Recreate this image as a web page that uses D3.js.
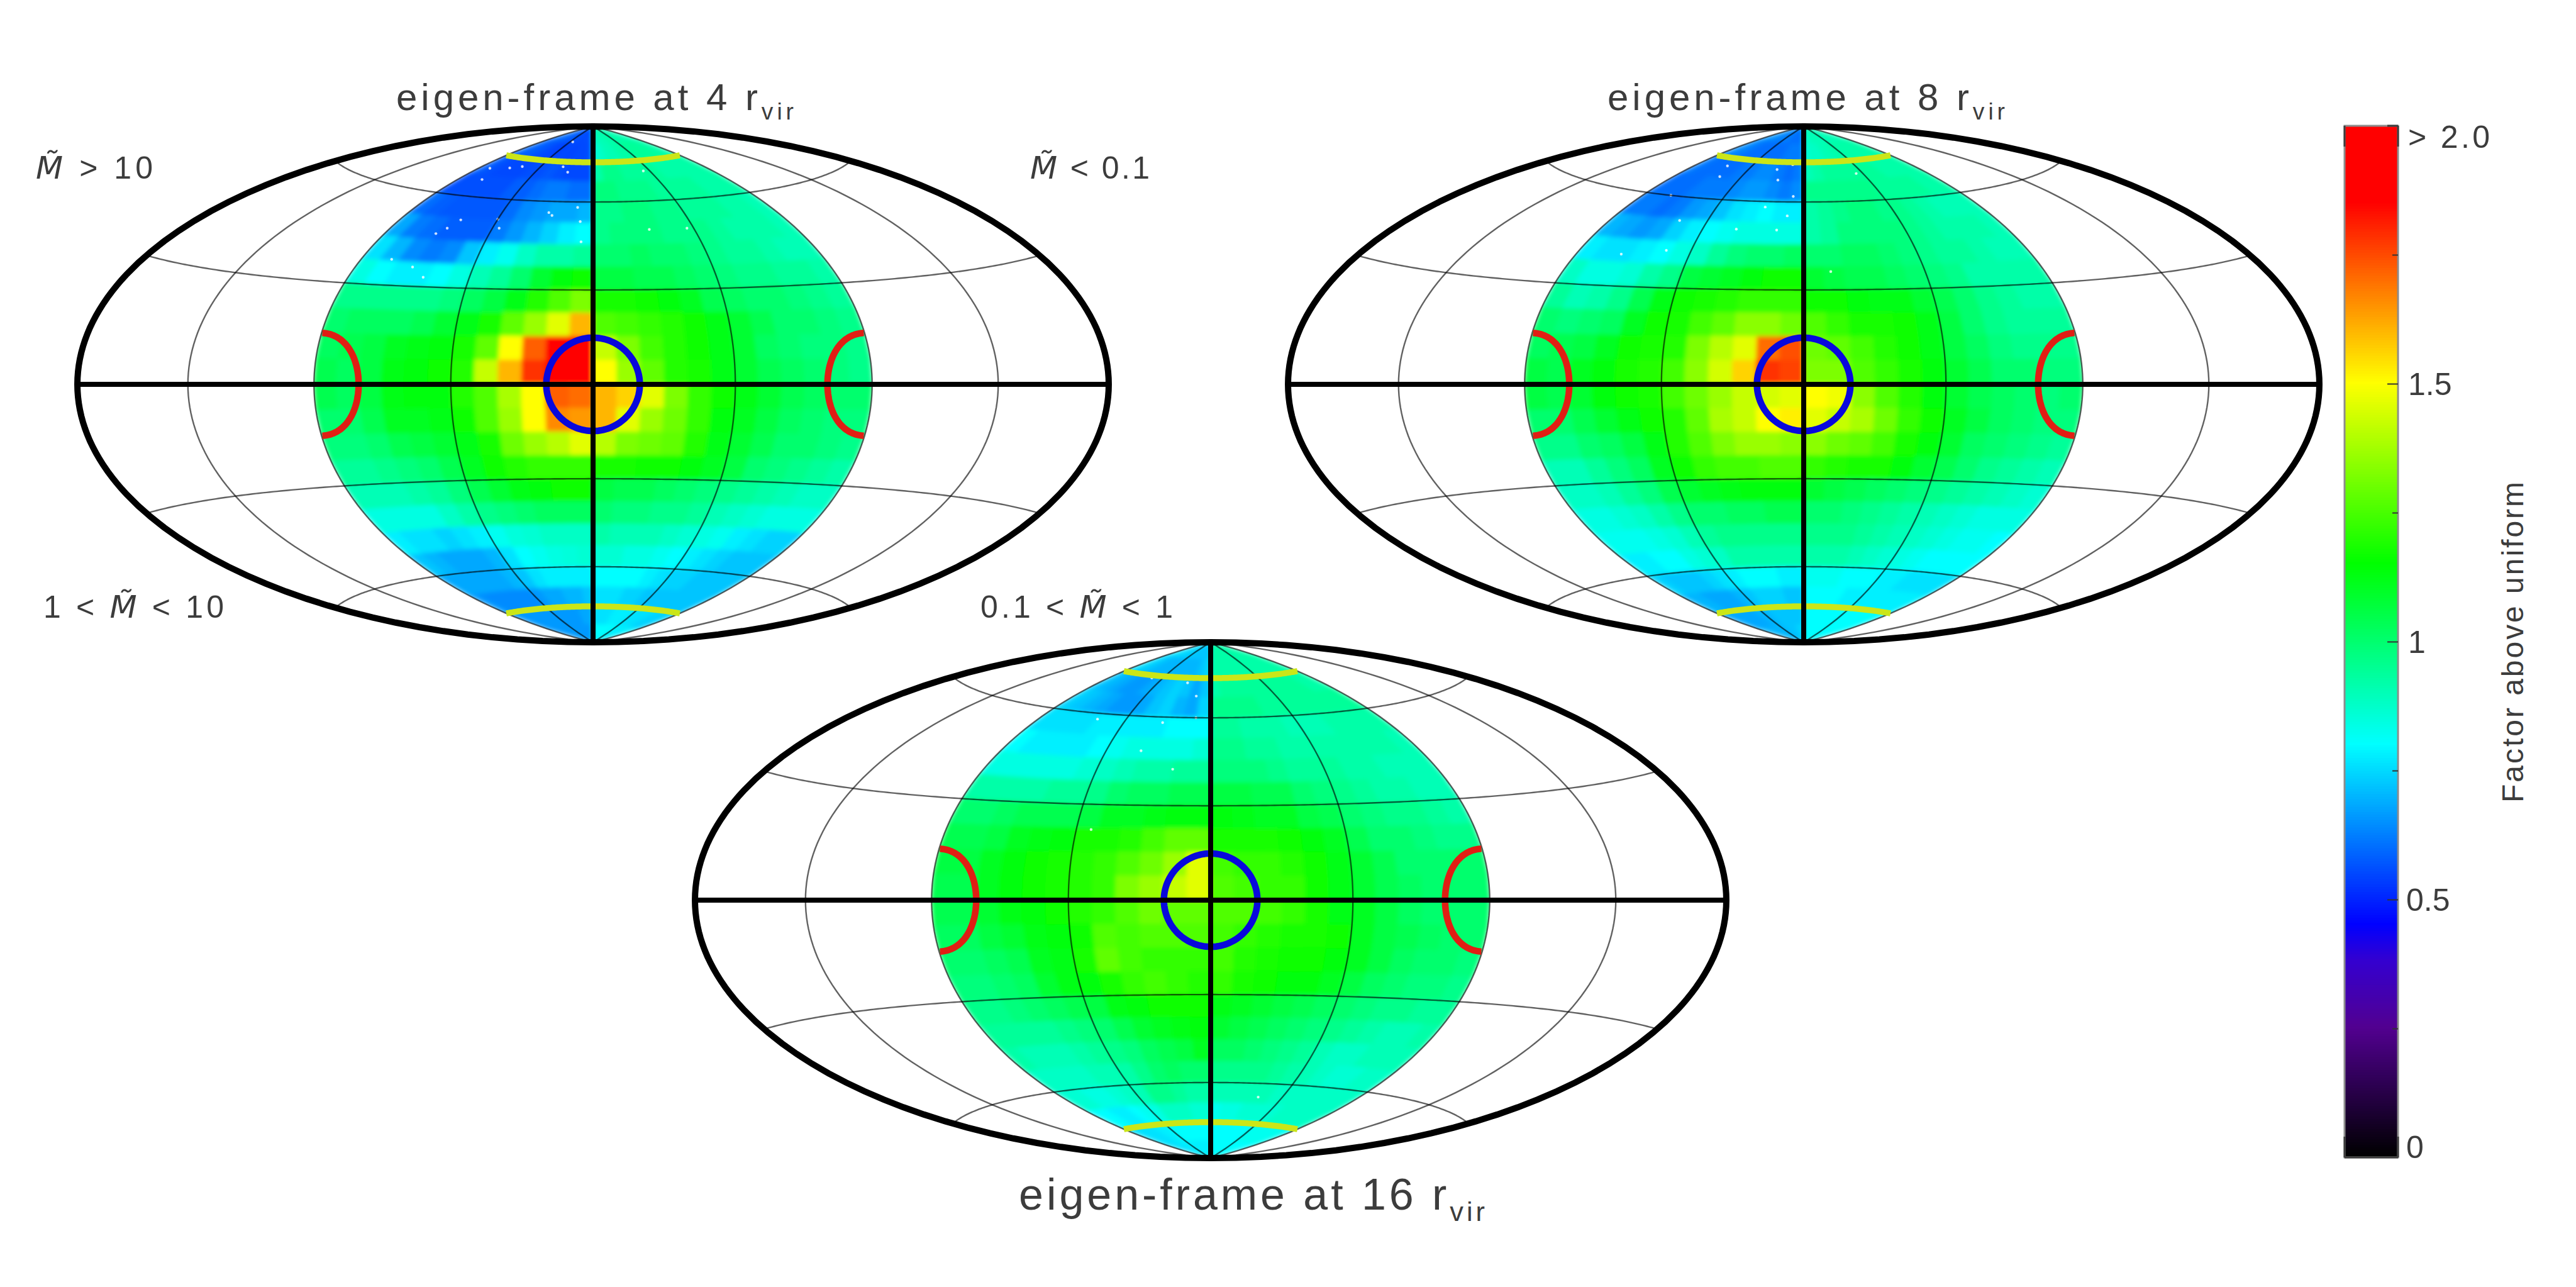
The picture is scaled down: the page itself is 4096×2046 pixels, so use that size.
<!DOCTYPE html>
<html>
<head>
<meta charset="utf-8">
<script src="https://cdn.jsdelivr.net/npm/d3@7"></script>
<style>
html, body { margin: 0; padding: 0; background: #fff; overflow: hidden; }
svg { display: block; }
text { font-family: "Liberation Sans", sans-serif; fill: #3c3c3c; }
</style>
</head>
<body>
<svg></svg>
<script>
var width = 4096, height = 2046;

// map cells: 7.5 deg rows (north to south) by 7.5 deg columns (-90 to 90), factor x 100
var map4 = [
	[60,60,60,58,58,56,56,56,55,55,56,56,88,90,90,90,92,92,92,92,92,92,90,90],
	[60,58,58,56,55,54,54,55,54,55,55,56,86,88,90,90,92,92,94,94,94,94,92,92],
	[58,56,55,55,55,56,56,57,56,55,55,55,92,96,96,94,94,94,94,92,92,92,92,92],
	[56,56,56,56,56,58,58,60,62,62,60,60,98,98,96,96,96,94,94,94,94,92,92,92],
	[60,58,57,57,57,57,60,64,66,68,68,70,96,96,98,98,96,96,94,94,94,92,92,90],
	[68,62,60,58,58,58,62,66,70,74,78,80,96,98,98,98,96,96,96,94,92,92,92,90],
	[76,70,64,62,64,72,78,82,88,92,92,94,100,100,102,100,100,98,96,94,94,92,90,90],
	[84,80,78,78,80,84,90,94,100,108,114,116,106,106,104,104,102,100,98,96,96,94,94,92],
	[96,96,96,96,96,98,102,106,112,120,126,132,118,118,116,114,110,104,102,100,100,98,96,94],
	[100,102,102,102,104,108,112,118,128,136,146,160,126,124,122,120,116,112,108,104,100,100,98,96],
	[102,104,106,110,112,114,118,128,150,172,192,196,142,132,124,120,116,112,108,102,100,98,98,96],
	[104,102,106,112,114,116,120,142,160,178,200,200,150,136,128,120,118,112,108,104,102,100,98,96],
	[104,102,106,112,114,114,120,126,138,150,172,170,160,156,146,132,122,116,112,108,104,102,100,100],
	[100,100,104,110,110,112,116,126,136,150,166,164,160,146,136,130,122,114,110,106,102,100,98,98],
	[98,98,100,104,106,108,112,118,130,136,140,146,140,132,130,128,120,112,108,104,100,100,98,96],
	[94,94,96,98,100,104,110,116,120,122,122,122,118,118,116,116,114,110,106,100,98,96,94,92],
	[90,90,90,92,94,98,104,108,112,114,116,116,106,104,104,102,100,98,96,94,92,90,88,88],
	[84,84,84,84,88,92,96,98,100,102,102,102,100,98,98,96,96,94,90,88,86,84,84,84],
	[78,76,76,74,76,78,82,85,86,88,88,88,92,90,90,90,88,86,84,82,78,76,74,74],
	[72,70,68,68,68,70,76,80,82,84,85,86,86,86,84,84,82,80,78,76,74,72,72,72],
	[68,68,68,68,68,70,72,76,78,78,78,78,80,80,80,80,78,76,74,74,72,72,72,72],
	[66,64,64,64,64,64,66,68,68,70,70,72,76,76,76,74,74,72,72,72,72,72,72,72],
	[66,66,66,66,66,66,66,66,66,66,68,68,76,76,76,78,78,78,76,76,76,74,74,74],
	[66,66,66,66,66,66,66,66,66,66,66,66,80,80,80,80,80,80,78,78,78,78,78,78]
];

var map8 = [
	[66,66,64,64,62,62,62,62,60,60,60,60,88,88,90,90,90,90,90,90,90,90,90,90],
	[64,64,62,60,60,60,60,60,60,62,62,62,86,88,88,90,90,92,92,92,92,92,92,92],
	[62,60,60,60,60,62,62,64,64,62,60,62,90,92,94,94,94,94,94,94,92,92,92,92],
	[60,60,60,62,62,62,64,66,66,64,62,64,96,96,96,96,96,96,94,94,94,94,92,92],
	[62,62,60,62,66,68,72,76,78,80,78,78,92,94,96,98,98,96,96,94,92,90,90,90],
	[70,68,66,68,74,78,80,82,84,84,84,84,92,94,98,98,98,98,96,94,92,92,92,90],
	[78,76,76,78,80,84,88,94,98,100,100,102,100,100,102,102,100,98,96,94,94,92,90,90],
	[88,84,84,86,92,96,106,108,110,114,116,116,108,106,104,104,102,100,98,96,92,92,92,92],
	[94,90,92,96,104,112,116,118,120,122,122,122,116,116,114,112,112,108,104,100,96,94,92,92],
	[100,98,100,102,110,116,118,124,128,134,134,130,126,122,118,118,116,112,106,100,96,94,94,94],
	[102,104,106,110,116,118,120,132,140,146,170,174,130,128,124,120,116,112,106,102,98,96,96,96],
	[106,104,110,114,118,120,124,134,144,156,178,176,132,132,126,122,118,114,108,104,100,100,98,98],
	[106,104,108,114,116,118,124,130,136,142,144,146,150,148,134,126,120,114,108,104,102,100,98,100],
	[100,100,104,108,112,116,120,128,138,142,150,152,146,142,138,130,122,116,110,106,102,100,98,98],
	[96,96,100,102,106,112,120,126,132,136,136,134,134,130,128,124,118,114,108,102,100,98,96,94],
	[90,90,94,98,102,110,116,122,124,124,126,126,122,120,118,118,114,108,104,100,96,94,92,90],
	[88,88,90,94,98,104,108,110,112,114,114,114,108,106,104,102,100,98,96,94,92,90,88,86],
	[84,84,86,88,92,96,100,100,102,102,104,104,100,100,98,96,94,92,90,88,86,84,84,84],
	[82,82,82,84,86,90,94,96,96,96,96,96,96,96,96,94,92,90,88,86,84,82,82,80],
	[78,78,80,80,84,86,88,92,92,92,92,92,92,92,92,90,88,86,84,82,80,80,80,80],
	[74,72,72,72,74,76,78,80,80,80,78,78,82,82,82,80,80,80,78,78,76,76,76,76],
	[70,70,68,68,68,70,72,74,74,74,72,72,80,80,80,80,78,78,78,78,78,78,78,78],
	[68,68,68,68,68,70,70,72,72,72,72,72,80,80,80,80,80,80,80,80,80,80,80,80],
	[70,70,70,70,70,70,70,72,72,72,74,74,80,80,80,80,80,80,80,80,80,80,80,80]
];

var map16 = [
	[76,76,76,74,74,74,72,72,72,72,72,72,92,92,92,92,92,92,92,92,92,92,92,92],
	[76,74,72,70,70,70,70,70,70,70,72,74,92,92,92,92,92,92,92,92,92,92,92,92],
	[72,70,68,66,66,68,70,72,74,72,68,72,92,94,94,94,94,94,94,94,94,94,92,92],
	[74,72,70,68,66,66,68,72,74,70,68,74,96,96,96,96,94,94,94,94,94,94,94,94],
	[76,76,76,76,78,78,78,78,78,80,80,80,94,94,92,92,92,90,90,90,92,92,92,92],
	[80,78,78,78,78,80,82,84,84,84,84,86,96,96,94,94,92,92,92,92,92,92,92,90],
	[84,84,84,84,84,86,88,90,92,92,94,94,98,98,98,96,94,94,94,92,92,90,90,90],
	[92,92,92,92,94,94,96,100,102,102,104,104,106,106,104,104,100,98,96,94,92,92,90,90],
	[100,100,102,104,104,104,106,110,110,112,114,114,114,112,110,110,106,104,100,98,96,96,94,92],
	[104,104,106,110,112,114,118,118,120,124,128,128,118,118,118,116,114,110,104,100,100,98,96,96],
	[106,106,110,114,116,118,120,122,126,130,136,146,124,122,122,120,116,112,108,104,100,100,100,100],
	[104,104,110,114,116,118,120,122,132,136,142,146,126,124,122,122,116,112,108,104,102,100,100,100],
	[104,104,108,112,114,116,120,122,126,130,128,128,126,126,124,122,118,112,110,106,102,100,100,100],
	[102,102,106,108,112,114,116,126,124,126,126,126,124,122,120,118,118,116,110,106,104,102,100,100],
	[100,100,102,104,110,112,118,128,124,122,122,122,124,120,118,116,116,114,110,106,102,100,100,98],
	[98,98,100,102,108,112,114,118,122,124,122,120,122,118,116,114,114,110,106,102,100,98,98,96],
	[96,96,98,100,102,104,106,112,114,116,116,116,112,110,108,106,104,102,100,98,96,96,94,94],
	[94,94,94,94,96,98,100,104,108,110,112,114,108,106,104,102,100,98,96,94,92,90,90,92],
	[92,90,90,90,92,94,96,98,102,104,106,110,102,102,100,98,96,94,90,88,88,90,90,90],
	[88,88,88,88,90,90,92,96,100,102,100,100,96,96,96,96,94,92,90,88,86,86,88,88],
	[86,86,84,84,86,88,90,96,96,94,92,92,90,90,90,90,90,88,88,88,88,88,88,88],
	[80,80,78,78,80,82,84,88,88,88,86,86,82,84,84,86,86,86,86,88,88,88,88,88],
	[76,76,76,76,78,78,80,80,80,80,80,80,80,80,80,80,80,80,82,82,82,82,82,82],
	[76,76,76,76,78,78,78,78,78,78,78,78,80,80,80,80,80,80,80,80,80,80,80,80]
];

// white specks in the maps, [lon, lat]
var specks4 = [[-62,52],[-42,50],[-45,53],[-75,66],[-82,70],[-68,71],[-26,73],[-20,71],[-8,58],[-22,56],[-6,53],[-62,33],[-68,36],[-78,38],[-65,49],[-68,47],[-60,72],[-40,83],[-20,55],[-5,46],[42,50],[40,71],[25,50]];
var specks8 = [[-60,68],[-65,72],[-22,72],[-18,68],[-10,74],[-6,62],[-20,58],[-30,50],[-58,52],[-72,40],[-55,42],[-12,50],[-8,55],[-75,60],[40,70],[10,36]];
var specks16 = [[-55,74],[-20,73],[-10,68],[-25,58],[-8,60],[-30,48],[-15,42],[-60,58],[-40,22],[30,-65]];

var parallels = [-60, -30, 30, 60];
var meridians = [-135, -90, -45, 45, 90, 135];

var barStops = [0, 0.15, 0.25, 0.38, 0.45, 0.625, 0.8, 1.15, 1.5, 1.85, 2];
var barColors = ["#000000", "#300058", "#520090", "#3400d0", "#0000ff", "#0080ff", "#00ffff", "#00ff00", "#ffff00", "#ff0000", "#ff0000"];
var barMajor = [0, 0.5, 1, 1.5, 2];
var barMinor = [0.25, 0.75, 1.25, 1.75];
var barLabels = ["0", "0.5", "1", "1.5", "> 2.0"];

var panels = [
	{cx: 943, cy: 611, map: map4, specks: specks4, title: "eigen-frame at 4 r", tx: 630, tw: 632, ty: 175, fs: 60},
	{cx: 2868, cy: 611, map: map8, specks: specks8, title: "eigen-frame at 8 r", tx: 2556, tw: 632, ty: 175, fs: 60},
	{cx: 1925, cy: 1431, map: map16, specks: specks16, title: "eigen-frame at 16 r", tx: 1620, tw: 741, ty: 1923, fs: 70}
];

var svg = d3.select("svg")
	.attr("width", width)
	.attr("height", height);

var color = d3.scaleLinear().domain(barStops).range(barColors).clamp(true);

function hammerRaw(l, p) {
	var c = Math.cos(p),
	    d = Math.sqrt(1 + c * Math.cos(l / 2));
	return [2 * Math.SQRT2 * c * Math.sin(l / 2) / d, Math.SQRT2 * Math.sin(p) / d];
}

var defs = svg.append("defs");
defs.append("filter")
	.attr("id", "soft")
	.append("feGaussianBlur")
	.attr("stdDeviation", 3.5);

function parallel(lat, lon0, lon1) {
	return d3.range(lon0, lon1 + 0.01, 1.5).map(function(l) { return [l, lat]; });
}

function meridian(lon) {
	return d3.range(-90, 90.01, 1.5).map(function(p) { return [lon, p]; });
}

panels.forEach(function(p, i) {
	var proj = d3.geoProjection(hammerRaw)
		.scale(289.9)
		.translate([p.cx, p.cy])
		.precision(0.2);
	var path = d3.geoPath(proj);
	var line = d3.line().context(null);

	var g = svg.append("g");

	// clip of the coloured hemisphere
	var edge = meridian(-90).concat(meridian(90).reverse());
	defs.append("clipPath")
		.attr("id", "hemi" + i)
		.append("path")
		.attr("d", line(edge.map(proj)) + "Z");

	var cells = [];
	p.map.forEach(function(row, r) {
		row.forEach(function(v, c) {
			cells.push({v: v / 100, lat: 90 - r * 7.5, lon: -90 + c * 7.5});
		});
	});

	g.append("g")
		.attr("clip-path", "url(#hemi" + i + ")")
		.append("g")
		.attr("filter", "url(#soft)")
		.selectAll("path")
		.data(cells)
		.enter()
		.append("path")
		.attr("d", function(d) {
			var ring = parallel(d.lat, d.lon, d.lon + 7.5)
				.concat(parallel(d.lat - 7.5, d.lon, d.lon + 7.5).reverse());
			return line(ring.map(proj)) + "Z";
		})
		.attr("fill", function(d) { return color(d.v); })
		.attr("stroke", function(d) { return color(d.v); })
		.attr("stroke-width", 1.5);

	g.append("g")
		.selectAll("circle")
		.data(p.specks)
		.enter()
		.append("circle")
		.attr("cx", function(d) { return proj(d)[0]; })
		.attr("cy", function(d) { return proj(d)[1]; })
		.attr("r", 2.2)
		.attr("fill", "#fff")
		.attr("opacity", 0.8);

	// thin grid
	g.append("g")
		.selectAll("path")
		.data(parallels.map(function(l) { return parallel(l, -180 + 0.01, 180 - 0.01); })
			.concat(meridians.map(meridian)))
		.enter()
		.append("path")
		.attr("d", function(d) { return line(d.map(proj)); })
		.attr("fill", "none")
		.attr("stroke", "#000")
		.attr("stroke-opacity", 0.62)
		.attr("stroke-width", 2.4);

	// yellow caps at 75 deg
	g.selectAll("path.cap")
		.data([75, -75])
		.enter()
		.append("path")
		.attr("class", "cap")
		.attr("d", function(d) { return line(parallel(d, -90, 90).map(proj)); })
		.attr("fill", "none")
		.attr("stroke", "#cbe618")
		.attr("stroke-width", 9.5);

	// blue ring round the centre, red half rings at the sides
	var ringRadius = 14.7;
	g.append("path")
		.datum(d3.geoCircle().center([0, 0]).radius(ringRadius).precision(2)())
		.attr("d", path)
		.attr("fill", "none")
		.attr("stroke", "#0808dc")
		.attr("stroke-width", 10.5);

	g.selectAll("path.side")
		.data([-90, 90])
		.enter()
		.append("path")
		.attr("class", "side")
		.attr("d", function(d) {
			var arc = d3.geoCircle().center([d, 0]).radius(ringRadius + 0.3).precision(2)().coordinates[0]
				.filter(function(q) { return Math.abs(q[0]) <= 90.01; })
				.sort(function(a, b) { return a[1] - b[1]; });
			return line(arc.map(proj));
		})
		.attr("fill", "none")
		.attr("stroke", "#e01e14")
		.attr("stroke-width", 10.5);

	// thick axes and outline
	g.append("path")
		.attr("d", line([[-179.99, 0], [0, 0], [179.99, 0]].map(proj)))
		.attr("stroke", "#000")
		.attr("stroke-width", 8);
	g.append("path")
		.attr("d", line(meridian(0).map(proj)))
		.attr("fill", "none")
		.attr("stroke", "#000")
		.attr("stroke-width", 8);
	g.append("path")
		.datum({type: "Sphere"})
		.attr("d", path)
		.attr("fill", "none")
		.attr("stroke", "#000")
		.attr("stroke-width", 10);

	// title
	var t = svg.append("text")
		.attr("x", p.tx)
		.attr("y", p.ty)
		.attr("font-size", p.fs)
		.attr("textLength", p.tw)
		.attr("lengthAdjust", "spacing");
	t.append("tspan").text(p.title);
	t.append("tspan")
		.attr("dy", p.fs * 0.25)
		.attr("font-size", p.fs * 0.62)
		.text("vir");
});

// mass bin labels
var massLabels = [
	{pre: "", post: " > 10", x: 57, y: 284, w: 186},
	{pre: "", post: " < 0.1", x: 1638, y: 284, w: 190},
	{pre: "1 < ", post: " < 10", x: 69, y: 982, w: 287},
	{pre: "0.1 < ", post: " < 1", x: 1559, y: 982, w: 306}
];

massLabels.forEach(function(d) {
	var t = svg.append("text")
		.attr("x", d.x)
		.attr("y", d.y)
		.attr("font-size", 50)
		.attr("textLength", d.w)
		.attr("lengthAdjust", "spacing");
	if (d.pre) t.append("tspan").text(d.pre);
	t.append("tspan")
		.attr("font-style", "italic")
		.style("font-family", "'DejaVu Sans'")
		.attr("font-size", 50)
		.text("M\u0303");
	t.append("tspan").text(d.post);
});

// colour bar
var barX = 3728, barW = 85;
var barY = d3.scaleLinear().domain([0, 2]).range([1840, 200]);

svg.append("g")
	.selectAll("rect")
	.data(d3.range(0, 2, 0.005))
	.enter()
	.append("rect")
	.attr("x", barX)
	.attr("width", barW)
	.attr("y", function(d) { return barY(d + 0.005) - 0.5; })
	.attr("height", barY(0) - barY(0.005) + 1)
	.attr("fill", function(d) { return color(d); });

svg.append("rect")
	.attr("x", barX)
	.attr("y", barY(2))
	.attr("width", barW)
	.attr("height", barY(0) - barY(2))
	.attr("fill", "none")
	.attr("stroke", "#8c8c8c")
	.attr("stroke-width", 3);

var major = svg.append("g")
	.attr("transform", "translate(" + (barX + barW) + ",0)")
	.call(d3.axisLeft(barY).tickValues(barMajor.slice(1, 4)).tickSize(17).tickFormat(""));
var minor = svg.append("g")
	.attr("transform", "translate(" + (barX + barW) + ",0)")
	.call(d3.axisLeft(barY).tickValues(barMinor).tickSize(9).tickFormat(""));
major.select(".domain").remove();
minor.select(".domain").remove();
svg.selectAll(".tick line").attr("stroke", "#333").attr("stroke-width", 2);

// dark corners at both ends of the bar
svg.append("g")
	.selectAll("line")
	.data([
		[barX, 200, barX, 233], [barX + barW, 200, barX + barW, 233], [barX + barW - 17, 200, barX + barW, 200],
		[barX, 1840, barX, 1807], [barX + barW, 1840, barX + barW, 1807], [barX, 1840, barX + barW, 1840]
	])
	.enter()
	.append("line")
	.attr("x1", function(d) { return d[0]; })
	.attr("y1", function(d) { return d[1]; })
	.attr("x2", function(d) { return d[2]; })
	.attr("y2", function(d) { return d[3]; })
	.attr("stroke", "#3c3c3c")
	.attr("stroke-width", 3);

svg.append("g")
	.selectAll("text")
	.data(barLabels)
	.enter()
	.append("text")
	.attr("x", function(d) { return d == "0.5" || d == "0" ? 3826 : 3829; })
	.attr("y", function(d, i) { return i == 4 ? 235 : i == 0 ? 1841 : barY(barMajor[i]) + 18; })
	.attr("font-size", 50)
	.attr("textLength", function(d) { return d.length == 5 ? 130 : null; })
	.attr("lengthAdjust", "spacing")
	.text(function(d) { return d; });

svg.append("text")
	.attr("transform", "translate(4012,1276) rotate(-90)")
	.attr("font-size", 48)
	.attr("textLength", 510)
	.attr("lengthAdjust", "spacing")
	.text("Factor above uniform");
</script>
</body>
</html>
